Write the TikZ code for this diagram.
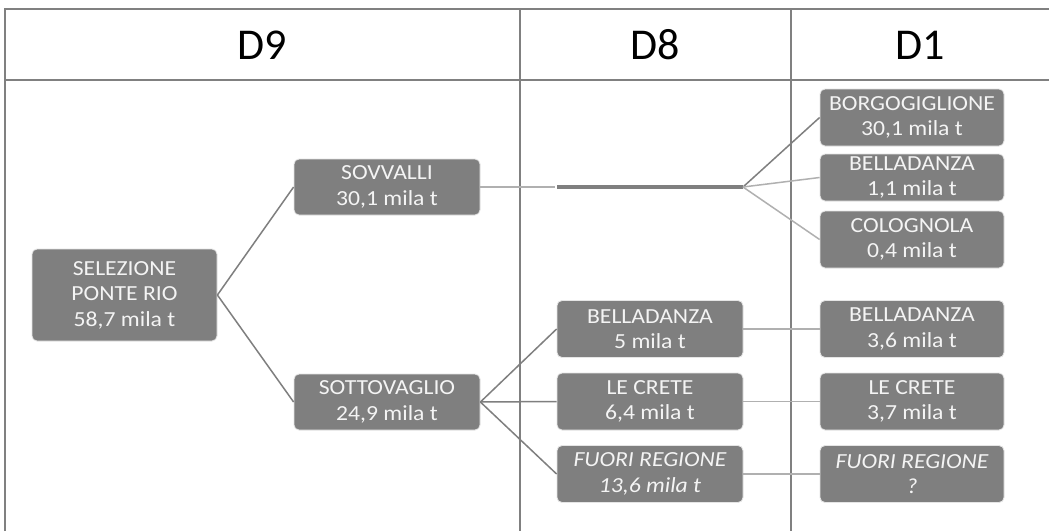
\documentclass[tikz,border=0pt]{standalone}
\usepackage{fontspec}
\setmainfont{Carlito}
\newfontfamily\boxfont{Carlito}[FakeStretch=1.1]
\definecolor{boxgray}{HTML}{7F7F7F}
\definecolor{linegray}{HTML}{7F7F7F}
\definecolor{lightline}{HTML}{B0B0B0}
\definecolor{boxtext}{HTML}{F4F4F4}
\definecolor{tablegray}{HTML}{808080}
\begin{document}
\begin{tikzpicture}[x=1pt,y=-1pt,
  box/.style={draw=white!80!gray, line width=0.8pt, fill=boxgray, rounded corners=5pt,
    text=boxtext, font=\boxfont\fontsize{21.5}{25.5}\selectfont, align=center, inner sep=0pt,
    minimum width=186pt, minimum height=57pt},
  dbox/.style={box, minimum width=184pt},
  hdr/.style={font=\fontsize{44}{50}\selectfont, inner sep=0pt},
  tline/.style={draw=tablegray, line width=1.6pt},
  conn/.style={draw=linegray, line width=1.5pt},
  lconn/.style={draw=lightline, line width=1.5pt}
]
\useasboundingbox (0,0) rectangle (1049,531);
\fill[white] (0,0) rectangle (1049,531);
% table
\draw[tline] (5,531) -- (5,9) -- (1049,9);
\draw[tline] (5,80) -- (1049,80);
\draw[tline] (520,9) -- (520,531);
\draw[tline] (791,9) -- (791,531);
\node[hdr] (h9) at (262,45) {D9};
\node[hdr] (h8) at (655,45) {D8};
\node[hdr] (h1) at (920,45) {D1};
% boxes
\node[box, minimum width=185pt, minimum height=92pt] (sel) at (124.5,295) {SELEZIONE\\PONTE RIO\\58,7 mila t};
\node[box, minimum height=56pt] (sov) at (387,187) {SOVVALLI\\30,1 mila t};
\node[box, minimum height=56pt] (sot) at (387,402) {SOTTOVAGLIO\\24,9 mila t};
\node[box] (b8) at (650,329) {BELLADANZA\\5 mila t};
\node[box] (lc8) at (650,401.5) {LE CRETE\\6,4 mila t};
\node[box] (fr8) at (650,474) {\itshape FUORI REGIONE\\\itshape 13,6 mila t};
\node[dbox] (borg) at (912,117.5) {BORGOGIGLIONE\\30,1 mila t};
\node[dbox, minimum height=47pt] (bel1) at (912,177.5) {BELLADANZA\\1,1 mila t};
\node[dbox] (col1) at (912,239.5) {COLOGNOLA\\0,4 mila t};
\node[dbox] (b1) at (912,329) {BELLADANZA\\3,6 mila t};
\node[dbox] (lc1) at (912,401.5) {LE CRETE\\3,7 mila t};
\node[dbox] (fr1) at (912,474) {\itshape FUORI REGIONE\\\itshape ?};
% connectors
\coordinate (tA) at (555,187);
\coordinate (tS) at (557,187);
\coordinate (fan) at (743,187);
\draw[conn] (sel.east) -- (sov.west);
\draw[conn] (sel.east) -- (sot.west);
\draw[conn] (sot.east) -- (b8.west);
\draw[conn] (sot.east) -- (lc8.west);
\draw[conn] (sot.east) -- (fr8.west);
\draw[lconn] (sov.east) -- (tA);
\draw[draw=linegray, line width=4pt] (tS) -- (fan);
\draw[conn] (fan) -- (borg.west);
\draw[lconn] (fan) -- (bel1.west);
\draw[lconn] (fan) -- (col1.west);
\draw[lconn] (b8.east) -- (b1.west);
\draw[lconn] (lc8.east) -- (lc1.west);
\draw[lconn] (fr8.east) -- (fr1.west);
\end{tikzpicture}
\end{document}
